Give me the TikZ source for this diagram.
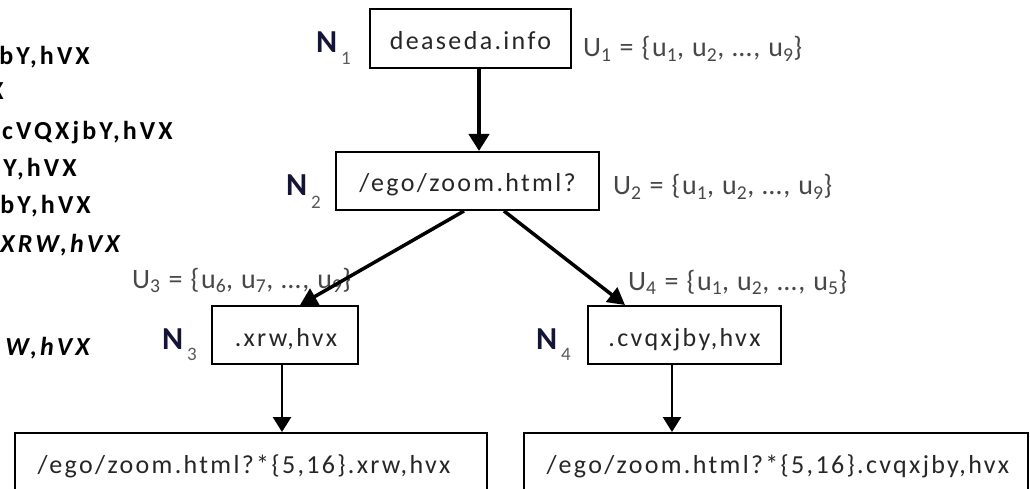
\documentclass[tikz,border=0pt]{standalone}
\usepackage{fontspec}
\setmainfont{Carlito}
\newfontfamily\boxfont[LetterSpace=9]{Carlito}
\newfontfamily\setfont[LetterSpace=6]{Carlito}
\newfontfamily\sidefont[LetterSpace=12]{Carlito}
\usetikzlibrary{arrows.meta}
\definecolor{nodename}{rgb}{0.08,0.08,0.22}
\begin{document}
\begin{tikzpicture}[x=1pt,y=-1pt,
  box/.style={draw=black,line width=2pt,inner sep=0pt},
  boxtext/.style={inner sep=0pt,anchor=base,font=\boxfont\fontsize{26}{30}\selectfont,text=black!85},
  nlab/.style={font=\bfseries\fontsize{32}{34}\selectfont,text=nodename,inner sep=0pt,anchor=base west},
  nsub/.style={font=\fontsize{19}{20}\selectfont,text=black!65,inner sep=0pt,anchor=base west},
  ulab/.style={font=\setfont\fontsize{28}{30}\selectfont,text=black!72,inner sep=0pt,anchor=base west},
  side/.style={font=\sidefont\bfseries\fontsize{26}{30}\selectfont,text=black,inner sep=0pt,anchor=base east},
  sideit/.style={side,font=\sidefont\bfseries\itshape\fontsize{26}{30}\selectfont},
  heavy arrow/.style={line width=4.5pt,-{Triangle[length=17pt,width=20pt]}},
  mid arrow/.style={line width=3.5pt,-{Triangle[length=17pt,width=18pt]}},
  light arrow/.style={line width=2.6pt,-{Triangle[length=15pt,width=18pt]}}
]
\useasboundingbox (0,0) rectangle (1030,489);
\clip (0,0) rectangle (1030,489);

% left column of labels, running off the left edge
\node[side] (s1) at (90,65) {bY,hVX};
\node[side] (s2) at (4,100) {X};
\node[side] (s3) at (173,140) {.cVQXjbY,hVX};
\node[side] (s4) at (77,177) {Y,hVX};
\node[side] (s5) at (91,213) {bY,hVX};
\node[sideit] (s6) at (120,252) {XRW,hVX};
\node[sideit] (s7) at (90,355) {W,hVX};

% tree nodes
\node[box,minimum width=201pt,minimum height=59pt] (n1) at (470.5,38.5) {};
\node[boxtext] (t1) at (470.5,50) {deaseda.info};
\node[box,minimum width=263pt,minimum height=58pt] (n2) at (467.5,181) {};
\node[boxtext] (t2) at (467.5,192) {/ego/zoom.html?};
\node[box,minimum width=146pt,minimum height=58pt] (n3) at (285,335) {};
\node[boxtext] (t3) at (286,346) {.xrw,hvx};
\node[box,minimum width=193pt,minimum height=58pt] (n4) at (684.5,335) {};
\node[boxtext] (t4) at (684.5,346) {.cvqxjby,hvx};
\node[box,minimum width=472pt,minimum height=90pt,anchor=north west] (n5) at (14,432) {};
\node[boxtext] (t5) at (244,473) {/ego/zoom.html?*\{5,16\}.xrw,hvx};
\node[box,minimum width=504pt,minimum height=90pt,anchor=north west] (n6) at (523,432) {};
\node[boxtext] (t6) at (778,473) {/ego/zoom.html?*\{5,16\}.cvqxjby,hvx};

% node names
\node[nlab] (l1) at (316,53) {N};  \node[nsub] (l1s) at (341,65) {1};
\node[nlab] (l2) at (286,196) {N}; \node[nsub] (l2s) at (311,208) {2};
\node[nlab] (l3) at (162,349) {N}; \node[nsub] (l3s) at (187,360) {3};
\node[nlab] (l4) at (536,349) {N}; \node[nsub] (l4s) at (561,360) {4};

% user sets
\node[ulab] (u1) at (583,57) {U\textsubscript{1} = \{u\textsubscript{1}, u\textsubscript{2}, …, u\textsubscript{9}\}};
\node[ulab] (u2) at (613,195) {U\textsubscript{2} = \{u\textsubscript{1}, u\textsubscript{2}, …, u\textsubscript{9}\}};
\node[ulab] (u3) at (132,288) {U\textsubscript{3} = \{u\textsubscript{6}, u\textsubscript{7}, …, u\textsubscript{9}\}};
\node[ulab] (u4) at (628,290) {U\textsubscript{4} = \{u\textsubscript{1}, u\textsubscript{2}, …, u\textsubscript{5}\}};

% connectors
\draw[heavy arrow] ([xshift=8.5pt]n1.south) -- ([xshift=11.5pt]n2.north);
\draw[mid arrow] ([xshift=-3.5pt]n2.south) -- ([xshift=15pt]n3.north);
\draw[mid arrow] ([xshift=36.5pt]n2.south) -- ([xshift=-59.5pt]n4.north);
\draw[light arrow] ([xshift=-3pt]n3.south) -- ([xshift=-3pt]n3.south |- n5.north);
\draw[light arrow] ([xshift=-12.5pt]n4.south) -- ([xshift=-12.5pt]n4.south |- n6.north);
\end{tikzpicture}
\end{document}
